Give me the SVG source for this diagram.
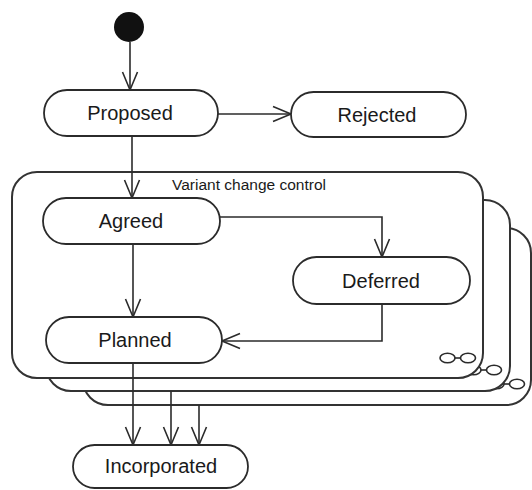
<svg xmlns="http://www.w3.org/2000/svg" width="532" height="490" viewBox="0 0 532 490">
  <style>
    .state { fill: #ffffff; stroke: #2b2b2b; stroke-width: 1.8; }
    .frame { fill: #ffffff; stroke: #333333; stroke-width: 2; }
    .label { font-family: "Liberation Sans", Arial, sans-serif; font-size: 20px; fill: #1a1a1a; text-anchor: middle; }
    .title { font-family: "Liberation Sans", Arial, sans-serif; font-size: 15.5px; fill: #1a1a1a; }
    .edge { fill: none; stroke: #2b2b2b; stroke-width: 1.6; marker-end: url(#open-arrow); }
    .icon { fill: #ffffff; stroke: #2b2b2b; stroke-width: 1.6; }
  </style>
  <defs>
    <marker id="open-arrow" markerUnits="userSpaceOnUse" viewBox="-20 -10 22 20" refX="0" refY="0" markerWidth="22" markerHeight="20" orient="auto" overflow="visible">
      <path d="M-18,-7.5 L0,0 L-18,7.5" fill="none" stroke="#2b2b2b" stroke-width="1.6"/>
    </marker>
    <!-- composite-state glyph: two linked ovals -->
    <g id="composite-icon">
      <line x1="-13" y1="0" x2="-7" y2="0" stroke="#2b2b2b" stroke-width="1.6"/>
      <ellipse class="icon" cx="-20.5" cy="0" rx="7.5" ry="4.8"/>
      <ellipse class="icon" cx="0" cy="0" rx="7.5" ry="4.8"/>
    </g>
  </defs>

  <rect width="532" height="490" fill="#ffffff"/>

  <!-- stacked frames of the "Variant change control" composite state, back to front -->
  <g id="variant-frame-3">
    <rect class="frame" x="83" y="228" width="448" height="177" rx="25" ry="25"/>
    <use href="#composite-icon" x="517" y="384"/>
  </g>
  <g id="variant-frame-2">
    <rect class="frame" x="46" y="200" width="464" height="191" rx="25" ry="25"/>
    <use href="#composite-icon" x="494" y="370"/>
  </g>
  <g id="variant-change-control">
    <rect class="frame" x="12" y="172" width="471" height="206" rx="25" ry="25"/>
    <use href="#composite-icon" x="468" y="358"/>
    <text class="title" x="172" y="190">Variant change control</text>
  </g>

  <!-- transitions -->
  <g id="connectors">
    <line class="edge" x1="130" y1="42" x2="130" y2="90"/>
    <line class="edge" x1="218" y1="114" x2="291" y2="114"/>
    <line class="edge" x1="132" y1="136" x2="132" y2="198"/>
    <polyline class="edge" points="220,217 382,217 382,257"/>
    <line class="edge" x1="133" y1="244" x2="133" y2="317"/>
    <polyline class="edge" points="382,304 382,341 222,341"/>
    <line class="edge" x1="133" y1="363" x2="133" y2="445"/>
    <line class="edge" x1="171" y1="391" x2="171" y2="445"/>
    <line class="edge" x1="199" y1="405" x2="199" y2="445"/>
  </g>

  <!-- states -->
  <g id="initial">
    <circle cx="129" cy="27" r="15" fill="#111111"/>
  </g>
  <g id="proposed">
    <rect class="state" x="44" y="90" width="174" height="46" rx="23" ry="23"/>
    <text class="label" x="130" y="120">Proposed</text>
  </g>
  <g id="rejected">
    <rect class="state" x="291" y="92" width="175" height="45" rx="22.5" ry="22.5"/>
    <text class="label" x="377" y="121.5">Rejected</text>
  </g>
  <g id="agreed">
    <rect class="state" x="43" y="198" width="177" height="46" rx="23" ry="23"/>
    <text class="label" x="131" y="228">Agreed</text>
  </g>
  <g id="deferred">
    <rect class="state" x="293" y="257" width="177" height="47" rx="23.5" ry="23.5"/>
    <text class="label" x="381" y="287.5">Deferred</text>
  </g>
  <g id="planned">
    <rect class="state" x="46" y="317" width="176" height="46" rx="23" ry="23"/>
    <text class="label" x="135" y="347">Planned</text>
  </g>
  <g id="incorporated">
    <rect class="state" x="73" y="445" width="175" height="43" rx="21.5" ry="21.5"/>
    <text class="label" x="161" y="473">Incorporated</text>
  </g>
</svg>
